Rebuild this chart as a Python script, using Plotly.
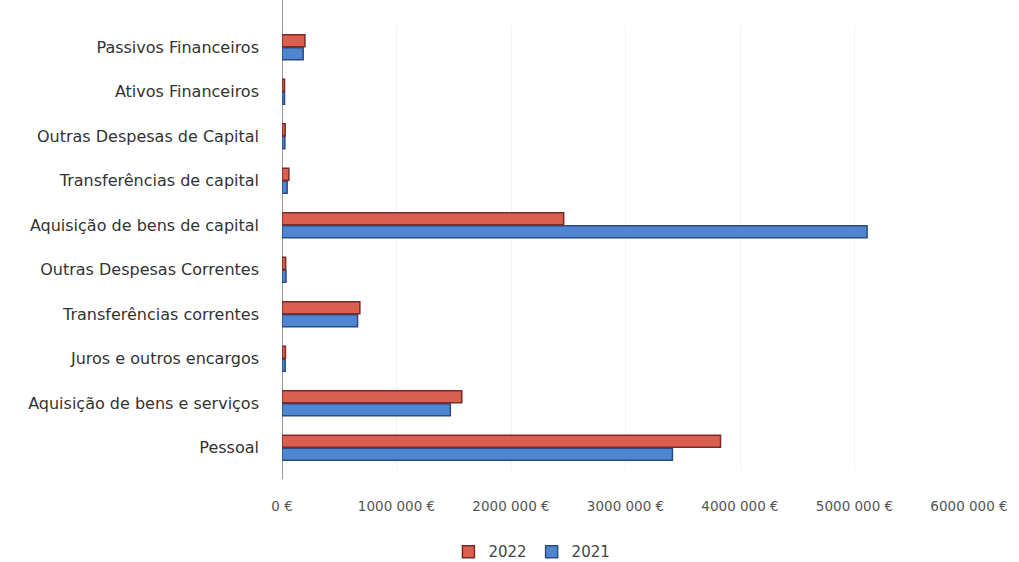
import plotly.graph_objects as go

# Expense categories, bottom to top as drawn on the y axis
categories = [
    "Pessoal",
    "Aquisição de bens e serviços",
    "Juros e outros encargos",
    "Transferências correntes",
    "Outras Despesas Correntes",
    "Aquisição de bens de capital",
    "Transferências de capital",
    "Outras Despesas de Capital",
    "Ativos Financeiros",
    "Passivos Financeiros",
]

# Amounts in euros
values_2021 = [3410000, 1470000, 28000, 660000, 35000, 5110000, 45000, 25000, 22000, 185000]
values_2022 = [3830000, 1570000, 30000, 680000, 32000, 2460000, 60000, 28000, 22000, 200000]

tick_values = [0, 1000000, 2000000, 3000000, 4000000, 5000000, 6000000]
tick_labels = ["0 €", "1000 000 €", "2000 000 €", "3000 000 €",
               "4000 000 €", "5000 000 €", "6000 000 €"]

fig = go.Figure()
fig.add_trace(go.Bar(
    name="2021", y=categories, x=values_2021, orientation="h",
    marker=dict(color="#4F86D2", line=dict(color="#2C4C7E", width=1.5)),
))
fig.add_trace(go.Bar(
    name="2022", y=categories, x=values_2022, orientation="h",
    marker=dict(color="#D9604F", line=dict(color="#7A2B27", width=1.5)),
))

font_family = "DejaVu Sans, Open Sans, sans-serif"

# Vertical axis line, running from the top edge down past the plot area
fig.add_shape(
    type="line", xref="x", yref="paper", layer="below",
    x0=0, x1=0, y0=-0.02, y1=1.056,
    line=dict(color="#9A9A9A", width=2),
)

fig.update_layout(
    width=1019, height=562,
    margin=dict(l=282, r=50, t=25, b=92),
    paper_bgcolor="white", plot_bgcolor="white",
    barmode="group", bargap=0.42, bargroupgap=0.08,
    font=dict(family=font_family, color="#333333"),
    showlegend=True,
    legend=dict(
        orientation="h", traceorder="reversed",
        xref="container", yref="container",
        x=0.522, xanchor="center", y=0.018, yanchor="middle",
        font=dict(size=15, color="#444444"),
        itemwidth=30,
    ),
    xaxis=dict(
        range=[0, 6000000], automargin=False,
        tickvals=tick_values, ticktext=tick_labels,
        tickfont=dict(size=13.5, color="#555555"),
        showgrid=True, gridcolor="#F3F3F3",
        zeroline=False, showline=False,
        ticklabelstandoff=26,
    ),
    yaxis=dict(
        type="category", automargin=False,
        tickfont=dict(size=16, color="#333333"),
        showline=False,
        showgrid=False, zeroline=False,
        ticklabelstandoff=22,
    ),
)

fig.write_html("out.html")
